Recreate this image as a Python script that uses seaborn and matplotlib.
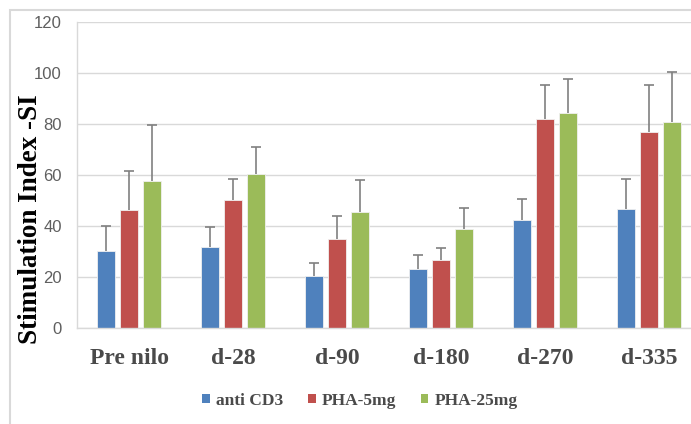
import matplotlib
matplotlib.use("Agg")
import matplotlib.pyplot as plt
from matplotlib.patches import Patch, Rectangle
import seaborn as sns
import pandas as pd
import numpy as np

categories = ["Pre nilo", "d-28", "d-90", "d-180", "d-270", "d-335"]
series = ["anti CD3", "PHA-5mg", "PHA-25mg"]
anti_cd3 = [30.3, 31.7, 20.5, 23.3, 42.5, 46.8]
pha_5mg = [46.2, 50.2, 35.0, 26.6, 81.9, 76.8]
pha_25mg = [57.6, 60.3, 45.4, 38.9, 84.4, 80.7]
anti_cd3_err = [9.6, 7.8, 4.9, 5.3, 8.2, 11.8]
pha_5mg_err = [15.4, 8.1, 8.8, 5.0, 13.2, 18.3]
pha_25mg_err = [22.0, 10.8, 12.5, 8.2, 13.3, 19.6]
yticks = [0, 20, 40, 60, 80, 100, 120]

colors = ["#4F81BD", "#C0504D", "#9BBB59"]

rows = []
for s, vals in zip(series, [anti_cd3, pha_5mg, pha_25mg]):
    for c, v in zip(categories, vals):
        rows.append({"cat": c, "series": s, "value": v})
df = pd.DataFrame(rows)

sns.set_style("white")
fig = plt.figure(figsize=(6.91, 4.24), dpi=100)
ax = fig.add_axes([77 / 691, 1 - 328.3 / 424, 624.5 / 691, 306.6 / 424])

sns.barplot(data=df, x="cat", y="value", hue="series", order=categories,
            hue_order=series, palette=colors, saturation=1, width=0.663, gap=0.217,
            errorbar=None, legend=False, ax=ax, edgecolor="#f0f0f0", linewidth=0.6)

errs = [anti_cd3_err, pha_5mg_err, pha_25mg_err]
for cont, e in zip(ax.containers, errs):
    xs = np.array([p.get_x() + p.get_width() / 2 for p in cont.patches])
    hs = np.array([p.get_height() for p in cont.patches])
    tops = hs + np.array(e)
    ax.vlines(xs, hs, tops, color="#808080", linewidth=1.2, zorder=3)
    ax.plot(xs, tops, linestyle="none", marker="_", markersize=7,
            markeredgewidth=1.2, color="#808080", zorder=3)

ax.set_xlim(-0.5, 5.5)
ax.set_ylim(0, 120)
ax.set_yticks(yticks)
ax.yaxis.grid(True, color="#d9d9d9", linewidth=1)
ax.set_axisbelow(True)
for s in ["right", "top"]:
    ax.spines[s].set_visible(False)
for s in ["bottom", "left"]:
    ax.spines[s].set_color("#d9d9d9")
    ax.spines[s].set_linewidth(1)
ax.tick_params(axis="both", length=0)
ax.tick_params(axis="y", pad=11, labelsize=12, labelcolor="#5f5f5f")
ax.tick_params(axis="x", pad=14)
for t in ax.get_yticklabels():
    t.set_fontfamily("Liberation Sans")
for t in ax.get_xticklabels():
    t.set_fontfamily("Liberation Serif")
    t.set_fontweight("bold")
    t.set_fontsize(17)
    t.set_color("#4a4a4a")
ax.set_xlabel("")
ax.set_ylabel("")

fig.text(31 / 691, 1 - 219 / 424, "Stimulation Index -SI", rotation=90,
         ha="center", va="center", fontsize=19.5, fontweight="bold",
         fontfamily="Liberation Serif", color="black")

handles = [Patch(facecolor=c, edgecolor="none") for c in colors]
leg = fig.legend(handles, series, loc="center", bbox_to_anchor=(0.521, 0.055),
                 ncol=3, frameon=False, handlelength=0.45, handleheight=0.45,
                 handletextpad=0.35, columnspacing=1.4,
                 prop={"family": "Liberation Serif", "weight": "bold", "size": 12.5})
for t in leg.get_texts():
    t.set_color("#4a4a4a")

fig.patches.append(Rectangle((10 / 691, -0.1), 1.2, (1 - 10.5 / 424) + 0.1,
                             transform=fig.transFigure, fill=False,
                             edgecolor="#d9d9d9", linewidth=1.5, zorder=0))

fig.savefig("out.png", dpi=100)
